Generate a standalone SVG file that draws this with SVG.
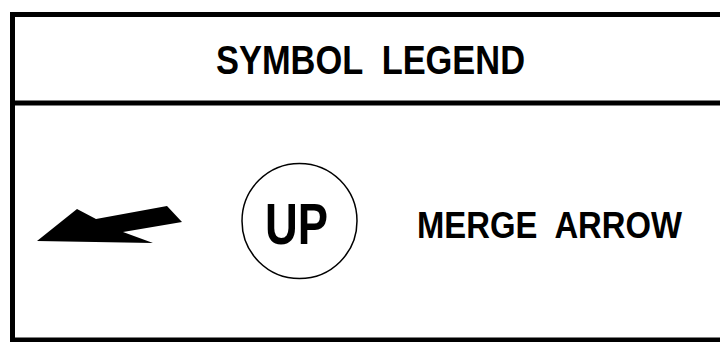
<svg xmlns="http://www.w3.org/2000/svg" width="720" height="342" viewBox="0 0 720 342">
<style>
.frame{stroke:#000;stroke-width:5;fill:none}
.t{font-family:"Liberation Sans",Arial,sans-serif;font-weight:bold;fill:#000;white-space:pre}
</style>
<rect width="720" height="342" fill="#fff"/>
<g id="frame">
<path class="frame" d="M12.5,342 V14.5 H722"/>
<path class="frame" d="M10,103 H722"/>
<path class="frame" d="M10,340 H722"/>
</g>
<g id="title">
<text class="t" x="216" y="74" font-size="40" textLength="309" lengthAdjust="spacingAndGlyphs">SYMBOL  LEGEND</text>
</g>
<g id="merge-arrow-symbol">
<polygon points="37,241 77,209 96,219 167,206 182,222 123,232 153,243" fill="#000"/>
</g>
<g id="up-symbol">
<circle cx="299.5" cy="221" r="57.5" fill="none" stroke="#000" stroke-width="1.5"/>
<text class="t" x="265" y="244" font-size="58" textLength="63" lengthAdjust="spacingAndGlyphs">UP</text>
</g>
<g id="label">
<text class="t" x="417" y="238" font-size="37" textLength="265" lengthAdjust="spacingAndGlyphs">MERGE  ARROW</text>
</g>
</svg>
